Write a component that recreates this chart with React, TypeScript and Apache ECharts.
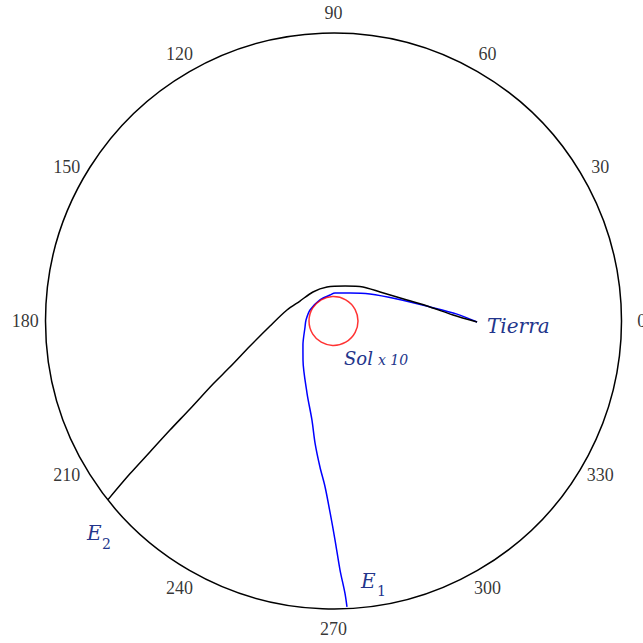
import React, { useEffect, useRef } from "react";
import * as echarts from "echarts";

// Angle tick labels (degrees)
const angleTicks = [0, 30, 60, 90, 120, 150, 180, 210, 240, 270, 300, 330];

// Trajectories in polar coordinates: [radius (AU), angle (deg)]
const blackPath: [number, number][] = [
  [0.997, 359.6], [0.831, 2.9], [0.677, 8.3], [0.531, 15.9], [0.381, 31.9],
  [0.313, 49.1], [0.256, 71.8], [0.24, 100.8], [0.247, 125.3], [0.271, 149.2],
  [0.332, 166.7], [0.442, 184.5], [0.605, 196.7], [0.787, 204.0], [0.944, 207.6],
  [1.169, 211.5], [1.365, 213.7], [1.566, 215.5], [1.768, 216.9], [2.0, 218.4],
];

const bluePath: [number, number][] = [
  [0.997, 359.6], [0.859, 3.2], [0.677, 8.3], [0.467, 19.1], [0.315, 36.5],
  [0.226, 59.5], [0.195, 86.9], [0.182, 97.7], [0.174, 122.7], [0.18, 154.9],
  [0.191, 177.9], [0.202, 191.9], [0.27, 218.2], [0.344, 232.0], [0.533, 249.8],
  [0.703, 257.7], [0.857, 261.4], [1.018, 264.7], [1.154, 267.1], [1.333, 269.0],
  [1.521, 270.4], [1.73, 271.5], [1.89, 272.4], [1.988, 272.7],
];

const sunPosition: [number, number][] = [[0, 0]];

const outerRadius = 2;
const labelRadius = 2.14;

const navy = "#23358b";

export default function App() {
  const ref = useRef<HTMLDivElement>(null);

  useEffect(() => {
    document.body.style.margin = "0";
    if (!ref.current) return;
    const chart = echarts.init(ref.current, null, { renderer: "svg" });
    chart.setOption({
      animation: false,
      backgroundColor: "#ffffff",
      polar: { center: [333.5, 321], radius: 288 },
      angleAxis: {
        type: "value",
        min: 0,
        max: 360,
        interval: 30,
        startAngle: 0,
        clockwise: false,
        axisLine: { show: true, lineStyle: { color: "#000", width: 1.5 } },
        axisTick: { show: false },
        axisLabel: { show: false },
        splitLine: { show: false },
      },
      radiusAxis: {
        type: "value",
        min: 0,
        max: outerRadius,
        show: false,
        axisLine: { show: false },
        axisTick: { show: false },
        axisLabel: { show: false },
        splitLine: { show: false },
      },
      series: [
        {
          type: "line",
          coordinateSystem: "polar",
          data: bluePath,
          symbol: "none",
          smooth: 0.3,
          clip: false,
          lineStyle: { color: "#0000ff", width: 1.5 },
          z: 2,
        },
        {
          type: "line",
          coordinateSystem: "polar",
          data: blackPath,
          symbol: "none",
          smooth: 0.3,
          clip: false,
          lineStyle: { color: "#000000", width: 1.5 },
          z: 3,
        },
        {
          type: "scatter",
          coordinateSystem: "polar",
          data: sunPosition,
          symbol: "circle",
          symbolSize: 49,
          clip: false,
          itemStyle: { color: "rgba(0,0,0,0)", borderColor: "#ff0000", borderWidth: 1.5 },
          z: 4,
        },
        {
          type: "scatter",
          coordinateSystem: "polar",
          data: angleTicks.map((a) => [labelRadius, a]),
          symbolSize: 1,
          clip: false,
          itemStyle: { color: "rgba(0,0,0,0)" },
          label: {
            show: true,
            position: "inside",
            formatter: (p: any) => String(p.value[1]),
            color: "#000",
            fontFamily: "Liberation Serif",
            fontSize: 18,
            align: "center",
            verticalAlign: "middle",
          },
          silent: true,
        },
      ],
      graphic: [
        {
          type: "text",
          x: 487,
          y: 326,
          style: {
            text: "Tierra",
            fill: navy,
            font: "italic 20px 'DejaVu Serif'",
            verticalAlign: "middle",
          },
        },
        {
          type: "text",
          x: 344,
          y: 358,
          style: {
            text: "Sol",
            fill: navy,
            font: "italic 18px 'DejaVu Serif'",
            verticalAlign: "middle",
          },
        },
        {
          type: "text",
          x: 378,
          y: 360,
          style: {
            text: "x 10",
            fill: navy,
            font: "italic 14px 'DejaVu Serif'",
            verticalAlign: "middle",
          },
        },
        {
          type: "text",
          x: 361,
          y: 591,
          style: {
            text: "E",
            fill: navy,
            font: "italic 20px 'DejaVu Serif'",
            verticalAlign: "bottom",
          },
        },
        {
          type: "text",
          x: 377,
          y: 598,
          style: {
            text: "1",
            fill: navy,
            font: "14px 'DejaVu Serif'",
            verticalAlign: "bottom",
          },
        },
        {
          type: "text",
          x: 87,
          y: 543,
          style: {
            text: "E",
            fill: navy,
            font: "italic 20px 'DejaVu Serif'",
            verticalAlign: "bottom",
          },
        },
        {
          type: "text",
          x: 102,
          y: 551,
          style: {
            text: "2",
            fill: navy,
            font: "14px 'DejaVu Serif'",
            verticalAlign: "bottom",
          },
        },
      ],
    });
    return () => chart.dispose();
  }, []);

  return <div ref={ref} style={{ width: 643, height: 643 }} />;
}
